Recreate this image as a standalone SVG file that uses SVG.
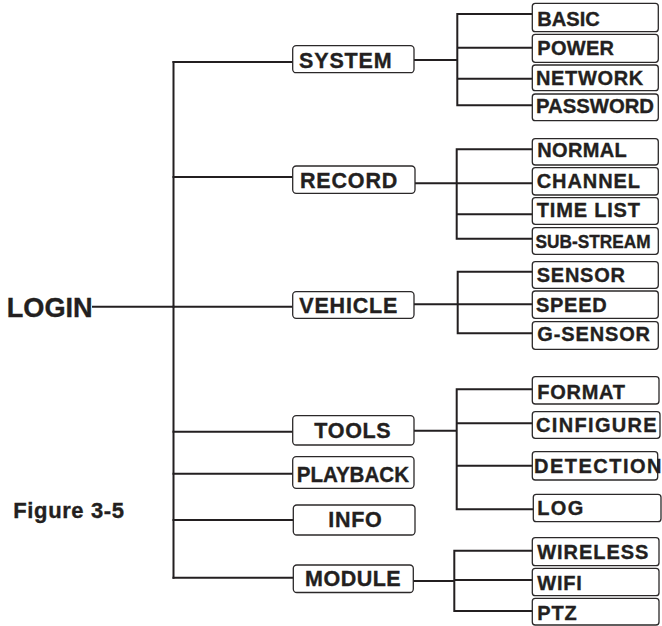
<svg xmlns="http://www.w3.org/2000/svg" width="662" height="626" viewBox="0 0 662 626">
<style>
  .bg { fill: #ffffff; }
  .box { fill: #ffffff; stroke: #2b2829; stroke-width: 1.3; }
  .ln { fill: none; stroke: #231f20; stroke-width: 2; stroke-linecap: square; }
  .t { font-family: "Liberation Sans", Arial, sans-serif; font-weight: bold; fill: #231f20; stroke: #231f20; stroke-width: 0.35; }
  .m { font-size: 21.5px; }
  .s { font-size: 20px; }
  .big { font-size: 28px; }
  .fig { font-size: 22px; }
</style>
<rect class="bg" x="0" y="0" width="662" height="626"/>

<g id="connectors">
  <path class="ln" d="M93,306.7 H173.5"/>
  <path class="ln" d="M173.5,62 V577.7"/>
  <path class="ln" d="M173.5,62 H292.7 M173.5,177 H292.7 M173.5,306.7 H292.7 M173.5,431.7 H292.7 M173.5,473.7 H292.7 M173.5,520 H293.3 M173.5,577.7 H293.3"/>
  <path class="ln" d="M414,60 H457.3 M457.3,14 V105.3 M457.3,14 H532.3 M457.3,47.7 H532.3 M457.3,78.7 H532.3 M457.3,105.3 H532.3"/>
  <path class="ln" d="M415,183.3 H456.7 M456.7,149.3 V238.7 M456.7,149.3 H532.3 M456.7,183.3 H532.3 M456.7,214.3 H532.3 M456.7,238.7 H532.3"/>
  <path class="ln" d="M414,304.3 H457.7 M457.7,271.7 V333.3 M457.7,271.7 H532.3 M457.7,304.3 H532.3 M457.7,333.3 H532.3"/>
  <path class="ln" d="M414,430.7 H456.7 M456.7,389.3 V509.3 M456.7,389.3 H532.3 M456.7,423.3 H532.3 M456.7,465.7 H532.3 M456.7,509.3 H533.3"/>
  <path class="ln" d="M413.3,581 H454.3 M454.3,550.7 V611 M454.3,550.7 H532.3 M454.3,580 H532.3 M454.3,611 H532.3"/>
</g>

<g id="login"><text class="t big" x="6.7" y="316.7" textLength="86" lengthAdjust="spacingAndGlyphs">LOGIN</text></g>
<g id="figure-label"><text class="t fig" x="13.3" y="517.7" textLength="110.7" lengthAdjust="spacing">Figure 3-5</text></g>

<g id="system"><rect class="box" x="292.7" y="45.7" width="121.3" height="27" rx="3.5"/><text class="t m" x="299" y="67.7" textLength="92.7" lengthAdjust="spacing">SYSTEM</text></g>
<g id="record"><rect class="box" x="292.7" y="166" width="122.3" height="27.3" rx="3.5"/><text class="t m" x="300" y="188.3" textLength="97.3" lengthAdjust="spacing">RECORD</text></g>
<g id="vehicle"><rect class="box" x="292.7" y="291.7" width="121.3" height="26.6" rx="3.5"/><text class="t m" x="299.3" y="312.7" textLength="98" lengthAdjust="spacing">VEHICLE</text></g>
<g id="tools"><rect class="box" x="292.7" y="415.7" width="121.3" height="29.3" rx="3.5"/><text class="t m" x="314.3" y="438.3" textLength="76.4" lengthAdjust="spacing">TOOLS</text></g>
<g id="playback"><rect class="box" x="292.7" y="456.7" width="121.3" height="31.6" rx="3.5"/><text class="t m" x="296.7" y="481.7" textLength="112.3" lengthAdjust="spacingAndGlyphs">PLAYBACK</text></g>
<g id="info"><rect class="box" x="293.3" y="505" width="121.7" height="30" rx="3.5"/><text class="t m" x="328.3" y="526.7" textLength="53.4" lengthAdjust="spacing">INFO</text></g>
<g id="module"><rect class="box" x="293.3" y="565" width="120" height="27.5" rx="3.5"/><text class="t m" x="305" y="586" textLength="95.7" lengthAdjust="spacing">MODULE</text></g>

<g id="basic"><rect class="box" x="532.3" y="3.3" width="126" height="28.4" rx="3"/><text class="t s" x="537.3" y="25.7" textLength="62.5" lengthAdjust="spacingAndGlyphs">BASIC</text></g>
<g id="power"><rect class="box" x="532.3" y="34.3" width="126" height="28" rx="3"/><text class="t s" x="537.3" y="55" textLength="76.7" lengthAdjust="spacing">POWER</text></g>
<g id="network"><rect class="box" x="532.3" y="65" width="126" height="25.7" rx="3"/><text class="t s" x="536" y="85" textLength="107.3" lengthAdjust="spacing">NETWORK</text></g>
<g id="password"><rect class="box" x="532.3" y="94" width="126" height="26.7" rx="3"/><text class="t s" x="536" y="112.7" textLength="118" lengthAdjust="spacingAndGlyphs">PASSWORD</text></g>

<g id="normal"><rect class="box" x="532.3" y="138.7" width="126" height="26.3" rx="3"/><text class="t s" x="537.3" y="157.3" textLength="89.4" lengthAdjust="spacing">NORMAL</text></g>
<g id="channel"><rect class="box" x="532.3" y="167.7" width="126" height="27.3" rx="3"/><text class="t s" x="536.7" y="188.3" textLength="103.3" lengthAdjust="spacing">CHANNEL</text></g>
<g id="timelist"><rect class="box" x="532.3" y="197.7" width="126" height="26.6" rx="3"/><text class="t s" x="536.7" y="216.7" textLength="103.3" lengthAdjust="spacing">TIME LIST</text></g>
<g id="substream"><rect class="box" x="532.3" y="227.7" width="126" height="26.6" rx="3"/><text class="t" style="font-size:18px" x="535.5" y="247.8" textLength="115" lengthAdjust="spacingAndGlyphs">SUB-STREAM</text></g>

<g id="sensor"><rect class="box" x="532.3" y="261.7" width="126" height="26.6" rx="3"/><text class="t s" x="536.7" y="281.7" textLength="88.3" lengthAdjust="spacing">SENSOR</text></g>
<g id="speed"><rect class="box" x="532.3" y="291" width="126" height="27.3" rx="3"/><text class="t s" x="536" y="311.7" textLength="70.7" lengthAdjust="spacing">SPEED</text></g>
<g id="gsensor"><rect class="box" x="532.3" y="321.7" width="126" height="27.6" rx="3"/><text class="t s" x="537.3" y="340.7" textLength="112.7" lengthAdjust="spacing">G-SENSOR</text></g>

<g id="format"><rect class="box" x="532.3" y="376.7" width="126.7" height="27.3" rx="3"/><text class="t s" x="537.3" y="399" textLength="87.7" lengthAdjust="spacing">FORMAT</text></g>
<g id="cinfigure"><rect class="box" x="532.3" y="411.7" width="127.7" height="26.6" rx="3"/><text class="t s" x="536" y="431.7" textLength="120.7" lengthAdjust="spacing">CINFIGURE</text></g>
<g id="detection"><rect class="box" x="532.3" y="451.7" width="125.4" height="28.3" rx="3"/><text class="t s" x="534" y="473.3" textLength="127.5" lengthAdjust="spacing">DETECTION</text></g>
<g id="log"><rect class="box" x="533.3" y="494.3" width="127.7" height="27.4" rx="3"/><text class="t s" x="537.3" y="515" textLength="46" lengthAdjust="spacing">LOG</text></g>

<g id="wireless"><rect class="box" x="532.3" y="537.7" width="126.7" height="28" rx="3"/><text class="t s" x="537.3" y="559.3" textLength="111" lengthAdjust="spacing">WIRELESS</text></g>
<g id="wifi"><rect class="box" x="532.3" y="568.3" width="126.7" height="27.4" rx="3"/><text class="t s" x="537.3" y="590" textLength="44.4" lengthAdjust="spacing">WIFI</text></g>
<g id="ptz"><rect class="box" x="532.3" y="598.3" width="126.7" height="26.7" rx="3"/><text class="t s" x="537.3" y="620" textLength="39.4" lengthAdjust="spacing">PTZ</text></g>
</svg>
